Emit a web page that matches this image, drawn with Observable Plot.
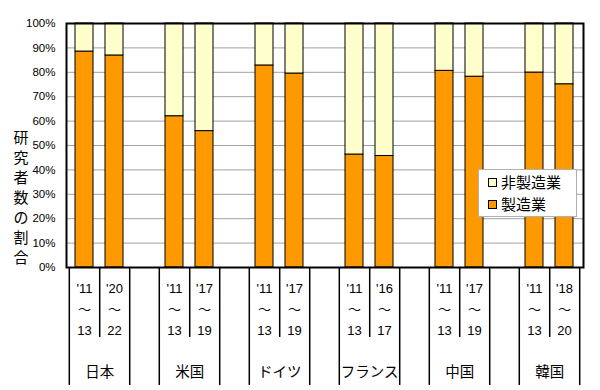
<!DOCTYPE html>
<html><head><meta charset="utf-8">
<script src="https://cdn.jsdelivr.net/npm/d3@7"></script>
<script src="https://cdn.jsdelivr.net/npm/@observablehq/plot@0.6"></script>
<style>
body{margin:0;background:#fff;}
#wrap{position:relative;width:600px;height:390px;overflow:hidden}
.legend{position:absolute;left:478px;top:169px;width:99px;height:48px;border:1px solid #b0b0b0;background:#fff;box-sizing:border-box;font-family:"Noto Sans CJK JP",sans-serif;font-size:15px;color:#000}
.item{position:absolute;left:9px;height:20px;line-height:20px;white-space:nowrap}
.sw{display:inline-block;width:7px;height:7px;border:1px solid #000;vertical-align:middle;margin-right:4px;position:relative;top:-1px}
</style>
</head><body>
<div id="wrap"></div>
<script>
const countries = ["日本","米国","ドイツ","フランス","中国","韓国"];
const periodFrom = ["'11","'20","'11","'17","'11","'17","'11","'16","'11","'17","'11","'18"];
const periodTo   = ["13","22","13","19","13","19","13","17","13","19","13","20"];
const manufacturing = [88.5,86.9,62.0,55.9,82.8,79.5,46.3,45.7,80.6,78.2,79.9,75.1];
const seriesNames = ["製造業","非製造業"];
const seriesColors = ["#FF9900","#FFFFCC"];
const yTicks = [0,10,20,30,40,50,60,70,80,90,100];
const yTitle = "研究者数の割合";

// build the table and x domain
const domain = [];
const bars = [];
const rows = [];
countries.forEach((c, ci) => {
  if (ci > 0) domain.push("gap" + ci);
  for (let k = 0; k < 2; k++) {
    const i = ci * 2 + k;
    const key = c + "|" + periodFrom[i] + "-" + periodTo[i];
    domain.push(key);
    bars.push({key, country: c, pos: k, label: periodFrom[i] + "\n～\n" + periodTo[i]});
    rows.push({key, series: seriesNames[0], value: manufacturing[i]});
    rows.push({key, series: seriesNames[1], value: 100 - manufacturing[i]});
  }
});

const W = 600, H = 390, ML = 66, MR = 17, MT = 23, MB = 123;
const step = (W - ML - MR) / domain.length;
const plotH = H - MT - MB;
const belowLong = -(H - 5 - (H - MB)) / plotH * 100;
const belowShort = -(337 - (H - MB)) / plotH * 100;

const firsts = bars.filter(d => d.pos === 0);
const seconds = bars.filter(d => d.pos === 1);
const font = "Liberation Sans, Noto Sans CJK JP, sans-serif";

const chart = Plot.plot({
  width: W, height: H,
  marginLeft: ML, marginRight: MR, marginTop: MT, marginBottom: MB,
  style: {fontFamily: font, background: "#fff", color: "#000"},
  x: {domain, axis: null, paddingInner: 0.4, paddingOuter: 0.2},
  y: {domain: [0, 100], axis: null, label: null},
  color: {domain: seriesNames, range: seriesColors},
  marks: [
    Plot.gridY(yTicks.slice(1, -1), {stroke: "#a0a0a0", strokeOpacity: 1, strokeWidth: 1}),
    Plot.barY(rows, {x: "key", y: "value", fill: "series", stroke: "#000", strokeWidth: 1}),
    Plot.axisY(yTicks, {tickSize: 0, tickPadding: 11, tickFormat: d => d + "%", fontSize: 11.5, fontFamily: font, fill: "#000", label: null}),
    // category separators below the axis
    Plot.ruleX(firsts, {x: "key", dx: -step / 2, y1: 0, y2: belowLong, stroke: "#000", strokeWidth: 1.5}),
    Plot.ruleX(seconds, {x: "key", dx: step / 2, y1: 0, y2: belowLong, stroke: "#000", strokeWidth: 1.5}),
    Plot.ruleX(firsts, {x: "key", dx: step / 2, y1: 0, y2: belowShort, stroke: "#000", strokeWidth: 1.5}),
    // period labels
    Plot.text(bars, {x: "key", text: "label", frameAnchor: "bottom", lineAnchor: "top", dy: 11, lineHeight: 1.6, fontSize: 13, fontFamily: font, fill: "#000"}),
    // country labels
    Plot.text(firsts, {x: "key", text: "country", dx: step / 2, frameAnchor: "bottom", dy: 109, fontSize: 14.5, fontFamily: "Noto Sans CJK JP", fill: "#000"}),
    // y title, one character per line
    Plot.text([yTitle], {text: d => d.split("").join("\n"), frameAnchor: "left", dx: -53, dy: 51, lineHeight: 1.33, fontSize: 15, fontFamily: "Noto Sans CJK JP", fill: "#000"}),
    Plot.frame({stroke: "#000", strokeWidth: 2})
  ]
});

const wrap = document.getElementById("wrap");
wrap.appendChild(chart);

// legend
const leg = document.createElement("div");
leg.className = "legend";
[[1, 2], [0, 24]].forEach(([si, top]) => {
  const it = document.createElement("div");
  it.className = "item";
  it.style.top = top + "px";
  const sw = document.createElement("span");
  sw.className = "sw";
  sw.style.background = seriesColors[si];
  it.appendChild(sw);
  it.appendChild(document.createTextNode(seriesNames[si]));
  leg.appendChild(it);
});
wrap.appendChild(leg);
</script>
</body></html>
